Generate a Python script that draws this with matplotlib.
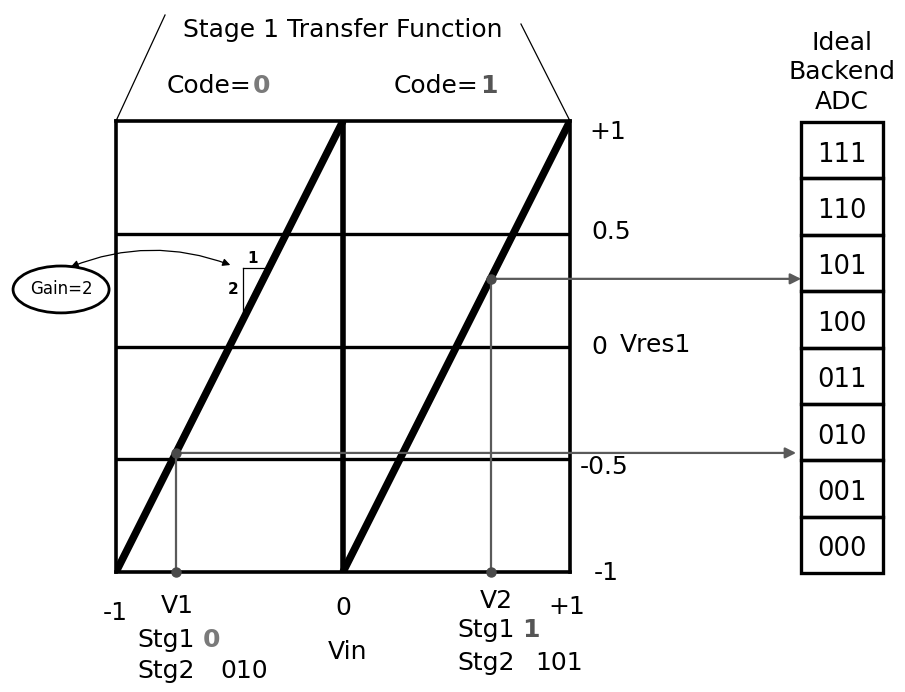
import numpy as np
import matplotlib
matplotlib.use('Agg')
from matplotlib import pyplot as plt
from matplotlib.patches import Ellipse, Rectangle, FancyArrowPatch

plt.rcParams['font.family'] = ['DejaVu Sans']

# stage 1 transfer function: two ramps of gain 2
code0_vin = [-1.0, 0.0]
code0_vres = [-1.0, 1.0]
code1_vin = [0.0, 1.0]
code1_vres = [-1.0, 1.0]
grid_levels = [-0.5, 0.0, 0.5]

# the two sample inputs and their residues
v1_vin, v1_vres = -0.736, -0.472
v2_vin, v2_vres = 0.65, 0.30

# backend adc codes, bottom to top
adc_codes = ['000', '001', '010', '011', '100', '101', '110', '111']
adc_header = ['Ideal', 'Backend', 'ADC']

right_labels = ['+1', '0.5', '0', '-0.5', '-1']
right_label_y = [0.951, 0.508, -0.002, -0.534, -1.004]
right_label_x = [1.084, 1.093, 1.093, 1.044, 1.106]

W, H = 905, 692
fig = plt.figure(figsize=(W / 100, H / 100), dpi=100)

ax = fig.add_axes([116 / W, (H - 572) / H, 454 / W, 451 / H])
ax.set_xlim(-1, 1)
ax.set_ylim(-1, 1)
ax.set_xticks([])
ax.set_yticks([])
for s in ax.spines.values():
    s.set_linewidth(2.6)

for g in grid_levels:
    ax.axhline(g, color='black', lw=2.4)
ax.plot([0, 0], [-1, 1], color='black', lw=4.0)
ax.plot(code0_vin, code0_vres, color='black', lw=5.4, solid_capstyle='butt')
ax.plot(code1_vin, code1_vres, color='black', lw=5.4, solid_capstyle='butt')

gray = '#5a5a5a'
# trace lines from vin to residue, then on to the backend adc
for vin, vres, xend in [(v1_vin, v1_vres, 1.996), (v2_vin, v2_vres, 2.018)]:
    ax.plot([vin, vin], [-1, vres], color=gray, lw=1.6)
    ax.plot([vin, vin], [-1, vres], 'o', color='#4a4a4a', ms=6.5,
            clip_on=False, zorder=5)
    ax.annotate('', xy=(xend, vres), xytext=(vin, vres),
                arrowprops=dict(arrowstyle='-|>', color=gray, lw=1.6,
                                mutation_scale=16, shrinkA=0, shrinkB=0),
                annotation_clip=False)

# gain triangle
tx = -0.441
ty = 0.348
ax.plot([tx, tx], [2 * tx + 1, ty], color='black', lw=0.9)
ax.plot([tx, (ty - 1) / 2], [ty, ty], color='black', lw=0.9)
ax.text(-0.399, 0.392, '1', fontsize=11, fontweight='bold', ha='center',
        va='center')
ax.text(-0.482, 0.253, '2', fontsize=11, fontweight='bold', ha='center',
        va='center')

# gain ellipse with the curved arrow
ell = Ellipse((-1.242, 0.253), 0.423, 0.208, fill=False, lw=2.0,
              clip_on=False)
ax.add_patch(ell)
ax.text(-1.242, 0.253, 'Gain=2', fontsize=12, ha='center', va='center')
arr = FancyArrowPatch((-1.211, 0.348), (-0.485, 0.357),
                      connectionstyle='arc3,rad=-0.2',
                      arrowstyle='<|-|>', mutation_scale=11, lw=0.9,
                      color='black', clip_on=False)
ax.add_patch(arr)

fs = 18
# right side labels
for lab, x, y in zip(right_labels, right_label_x, right_label_y):
    ax.text(x, y, lab, fontsize=fs, ha='left', va='center', clip_on=False)
ax.text(1.22, 0.007, 'Vres1', fontsize=fs, ha='left', va='center')

# bottom labels
ax.text(-1.004, -1.182, '-1', fontsize=fs, ha='center', va='center')
ax.text(v1_vin + 0.005, -1.151, 'V1', fontsize=fs, ha='center', va='center')
ax.text(0.0, -1.16, '0', fontsize=fs, ha='center', va='center')
ax.text(v2_vin + 0.024, -1.129, 'V2', fontsize=fs, ha='center', va='center')
ax.text(0.987, -1.155, '+1', fontsize=fs, ha='center', va='center')
ax.text(0.018, -1.355, 'Vin', fontsize=fs, ha='center', va='center')

ax.text(-0.907, -1.333, 'Stg1', fontsize=fs, ha='left', va='baseline')
ax.text(-0.617, -1.333, '0', fontsize=fs, ha='left', va='baseline',
        color='#7a7a7a', fontweight='bold')
ax.text(-0.907, -1.472, 'Stg2', fontsize=fs, ha='left', va='baseline')
ax.text(-0.542, -1.472, '010', fontsize=fs, ha='left', va='baseline')

ax.text(0.502, -1.288, 'Stg1', fontsize=fs, ha='left', va='baseline')
ax.text(0.789, -1.288, '1', fontsize=fs, ha='left', va='baseline',
        color='#555555', fontweight='bold')
ax.text(0.502, -1.435, 'Stg2', fontsize=fs, ha='left', va='baseline')
ax.text(0.846, -1.435, '101', fontsize=fs, ha='left', va='baseline')

# title and code labels
ax.text(0.0, 1.405, 'Stage 1 Transfer Function', fontsize=fs, ha='center',
        va='center')
ax.text(-0.405, 1.155, 'Code=', fontsize=fs, ha='right', va='center')
ax.text(-0.398, 1.155, '0', fontsize=fs, ha='left', va='center',
        color='#7a7a7a', fontweight='bold')
ax.text(0.595, 1.155, 'Code=', fontsize=fs, ha='right', va='center')
ax.text(0.602, 1.155, '1', fontsize=fs, ha='left', va='center',
        color='#555555', fontweight='bold')
ax.plot([-1, -0.784], [1, 1.47], color='black', lw=0.9, clip_on=False)
ax.plot([1, 0.784], [1, 1.43], color='black', lw=0.9, clip_on=False)

# ideal backend adc column
bx = fig.add_axes([801 / W, (H - 573) / H, 82 / W, 451 / H])
bx.set_xlim(0, 1)
bx.set_ylim(0, len(adc_codes))
bx.axis('off')
for i, code in enumerate(adc_codes):
    bx.add_patch(Rectangle((0, i), 1, 1, fill=False, lw=2.4,
                           edgecolor='black', clip_on=False))
    bx.text(0.5, i + 0.42, code, fontsize=18.5, ha='center', va='center')
for j, word in enumerate(adc_header):
    bx.text(0.5, 9.41 - j * 0.53, word, fontsize=fs, ha='center',
            va='center')

fig.savefig('out.png', dpi=100)
